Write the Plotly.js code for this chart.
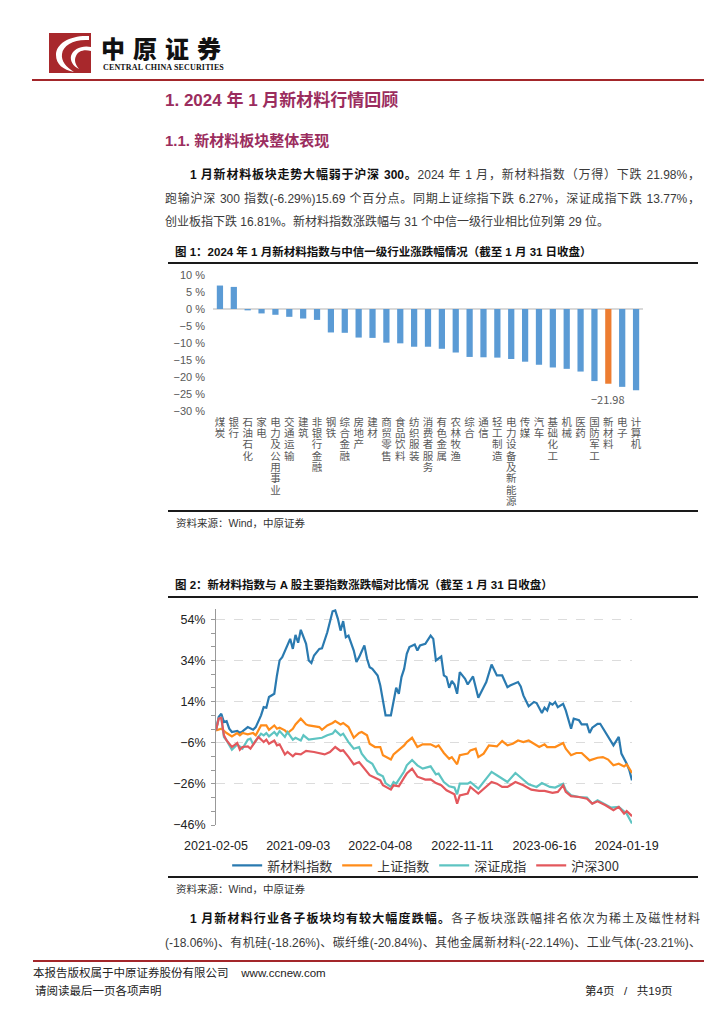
<!DOCTYPE html>
<html lang="zh-CN">
<head>
<meta charset="utf-8">
<script src="https://cdn.plot.ly/plotly-3.0.1.min.js"></script>
<style>
html,body{margin:0;padding:0;background:#fff;}
#page{position:relative;width:724px;height:1024px;overflow:hidden;font-family:"Liberation Sans","Noto Sans CJK SC",sans-serif;color:#3a3a3a;}
.abs{position:absolute;white-space:nowrap;}
.rule{position:absolute;height:2px;background:#1a1a1a;z-index:5;}
.jl{position:absolute;white-space:normal;text-align:justify;text-align-last:justify;font-size:12px;line-height:16px;}
.nl{position:absolute;white-space:nowrap;font-size:12px;line-height:16px;}
.jl b,.nl b{color:#111;font-weight:bold;}
.ttl{position:absolute;white-space:nowrap;font-size:11.5px;line-height:14px;font-weight:bold;color:#111;}
.src{position:absolute;white-space:nowrap;font-size:10.5px;line-height:14px;color:#333;}
.chart{position:absolute;}
</style>
</head>
<body>
<div id="page">
  <svg class="abs" style="left:49px;top:33px" width="42" height="40" viewBox="0 0 42 40">
    <rect width="42" height="40" fill="#a8282c"/>
    <path d="M40,3 C22,2 7,10 7,22 C7,31 14,37 25,39 C17,34 12,28 13,21 C14,12 25,6 40,7 Z" fill="#fff"/>
    <path d="M42,14 C33,12 24,16 22,23 C21,28 24,33 30,36 C26,31 25,27 27,23 C29,18 35,16 42,18 Z" fill="#fff"/>
  </svg>
  <div class="abs" style="left:101px;top:36px;font-family:'Noto Sans CJK SC';font-weight:900;font-size:24px;line-height:24px;letter-spacing:8px;color:#111;">中原证券</div>
  <div class="abs" style="left:103px;top:63px;font-family:'Liberation Serif';font-weight:bold;font-size:8px;line-height:9px;letter-spacing:0.15px;color:#111;">CENTRAL CHINA SECURITIES</div>
  <div class="abs" style="left:32px;top:79px;width:672px;height:2px;background:#a3262a;"></div>

  <div class="abs" style="left:165px;top:91px;font-size:17px;line-height:20px;font-weight:bold;color:#9b2d5e;">1. 2024 年 1 月新材料行情回顾</div>
  <div class="abs" style="left:165px;top:132px;font-size:15px;line-height:18px;font-weight:bold;color:#9b2d5e;">1.1. 新材料板块整体表现</div>

  <div class="jl" style="left:190px;top:167px;width:510px;"><b>1 月新材料板块走势大幅弱于沪深 300。</b>2024 年 1 月，新材料指数（万得）下跌 21.98%，</div>
  <div class="jl" style="left:165px;top:191px;width:535px;">跑输沪深 300 指数(-6.29%)15.69 个百分点。同期上证综指下跌 6.27%，深证成指下跌 13.77%，</div>
  <div class="nl" style="left:165px;top:214px;">创业板指下跌 16.81%。新材料指数涨跌幅与 31 个中信一级行业相比位列第 29 位。</div>

  <div class="ttl" style="left:175px;top:245px;">图 1：2024 年 1 月新材料指数与中信一级行业涨跌幅情况（截至 1 月 31 日收盘）</div>
  <div class="rule" style="left:168px;top:262px;width:530px;"></div>
  <div id="c1" class="chart" style="left:160px;top:255px;width:520px;height:265px;"></div>
  <div class="rule" style="left:168px;top:510px;width:530px;"></div>
  <div class="src" style="left:176px;top:516px;">资料来源：Wind，中原证券</div>

  <div class="ttl" style="left:175px;top:578px;">图 2：新材料指数与 A 股主要指数涨跌幅对比情况（截至 1 月 31 日收盘）</div>
  <div class="rule" style="left:168px;top:596px;width:530px;"></div>
  <div id="c2" class="chart" style="left:160px;top:600px;width:540px;height:300px;"></div>
  <div class="rule" style="left:168px;top:876px;width:530px;"></div>
  <div class="src" style="left:176px;top:882px;">资料来源：Wind，中原证券</div>

  <div class="jl" style="left:190px;top:911px;width:510px;"><b>1 月新材料行业各子板块均有较大幅度跌幅。</b>各子板块涨跌幅排名依次为稀土及磁性材料</div>
  <div class="jl" style="left:165px;top:935px;width:536px;">(-18.06%)、有机硅(-18.26%)、碳纤维(-20.84%)、其他金属新材料(-22.14%)、工业气体(-23.21%)、</div>

  <div class="abs" style="left:33px;top:960px;width:671px;height:2px;background:#a3262a;"></div>
  <div class="abs" style="left:33px;top:966px;font-size:11.5px;line-height:14px;color:#222;">本报告版权属于中原证券股份有限公司&nbsp;&nbsp;&nbsp;&nbsp;www.ccnew.com</div>
  <div class="abs" style="left:35px;top:984px;font-size:11.5px;line-height:14px;color:#222;">请阅读最后一页各项声明</div>
  <div class="abs" style="left:585px;top:984px;font-size:11.5px;line-height:14px;color:#222;">第4页&nbsp;&nbsp;&nbsp;/&nbsp;&nbsp;&nbsp;共19页</div>
</div>

<script>
// ---------- Figure 1: industry changes, Jan 2024 (%) ----------
var industries = ['煤炭','银行','石油石化','家电','电力及公用事业','交通运输','建筑','非银行金融','钢铁','综合金融','房地产','建材','商贸零售','食品饮料','纺织服装','消费者服务','有色金属','农林牧渔','综合','通信','轻工制造','电力设备及新能源','传媒','汽车','基础化工','机械','医药','国防军工','新材料','电子','计算机'];
var changes = [6.9, 6.5, -0.4, -1.3, -1.7, -2.3, -2.8, -3.2, -6.9, -7.0, -8.4, -8.5, -9.9, -10.1, -11.1, -11.1, -11.7, -12.8, -14.1, -14.2, -14.3, -14.7, -15.5, -16.4, -17.2, -17.6, -18.4, -21.2, -21.98, -22.9, -23.9];
var highlight = '新材料';

// ---------- Figure 2: cumulative change since 2021-02-05 (%) ----------
// x = weekly observation index (0 = 2021-02-05)
var dateTickIdx = [0, 31, 62, 93, 124, 155];
var dateTickText = ['2021-02-05', '2021-09-03', '2022-04-08', '2022-11-11', '2023-06-16', '2024-01-19'];

var newMatIdx = [0,1,2,3,4,5,6,8,9,10,12,13,14,15,17,18,19,20,22,23,24,25,27,28,29,30,31,32,34,35,36,37,39,40,42,43,44,45,46,47,48,49,50,52,53,54,56,57,58,59,61,62,63,64,66,67,68,69,70,71,72,73,75,76,77,79,81,82,83,85,86,87,88,89,90,91,92,94,95,97,99,101,102,104,106,108,110,111,114,115,116,118,120,121,123,124,125,126,127,128,129,131,132,134,135,137,138,140,141,142,144,145,147,149,150,152,153,155,156,157];
var newMatVal = [0,6.5,8.1,4.0,4.5,0.8,-0.8,-0.3,-1.1,-0.5,1.6,1.0,0.3,1.6,7.3,11.3,11.0,16.2,17.8,26.7,34.0,35.6,41.3,44.5,39.6,46.4,42.6,48.9,42.1,34.0,32.7,36.4,39.6,39.9,47.7,53.4,57.9,58.3,54.2,48.5,53.1,45.3,46.1,38.8,33.2,35.6,41.3,34.8,30.7,29.9,26.7,21.8,14.6,7.3,7.3,14.6,20.7,17.8,25.9,29.9,37.2,40.5,41.7,38.8,41.3,42.1,46.1,44.5,34.0,35.9,26.7,25.9,20.7,24.0,22.3,17.8,28.3,25.1,22.3,26.2,15.9,21.0,23.5,32.0,26.7,26.7,21.0,21.8,23.5,21.4,17.0,11.7,13.8,13.3,8.4,11.0,9.7,13.3,12.5,13.8,11.3,12.9,9.7,0.8,5.7,4.9,2.9,2.9,-1.3,1.3,3.2,3.2,-0.8,-4.9,-7.3,-3.2,-11.3,-16.2,-19.4,-24.3];

var shIdx = [0,1,2,4,6,8,9,10,12,14,15,17,19,20,22,23,24,26,27,29,30,32,34,35,37,39,40,42,44,45,47,48,50,52,54,55,57,58,60,62,63,66,67,69,71,72,74,76,78,81,83,84,86,88,89,91,92,95,96,98,99,101,103,106,108,110,112,114,116,118,120,122,124,125,128,131,132,134,136,138,141,144,146,148,150,152,154,155,157];
var shVal = [0,0.5,0.8,-1.3,-2.9,-1.3,-2.4,-1.3,-1.9,-1.3,-2.4,2.4,2.4,0.3,2.4,0.8,1.3,0,-1.3,0.8,2.9,5.7,2.9,2.4,1.9,1.6,0.3,2.4,3.6,4.5,2.9,3.6,1.6,-3.6,-1.3,-0.8,-2.4,-6.5,-8.1,-8.1,-12.1,-14.2,-11.7,-9.7,-7.3,-5.7,-3.6,-8.1,-6.8,-6.8,-8.1,-7.3,-11.0,-13.8,-13.0,-16.5,-12.1,-11.3,-9.7,-8.9,-13.0,-11.3,-7.3,-7.8,-5.2,-7.3,-6.5,-4.9,-5.7,-4.9,-6.5,-8.1,-6.8,-8.1,-8.1,-6.1,-8.9,-12.1,-11.0,-11.0,-14.6,-13.3,-13.0,-14.2,-17.0,-16.2,-17.5,-16.5,-20.7];

var szIdx = [0,1,2,3,4,6,8,9,10,12,13,14,15,17,18,19,20,22,23,24,26,27,29,30,32,33,35,37,40,42,44,45,47,48,50,52,54,55,57,59,61,63,64,66,67,68,71,72,74,76,78,81,83,84,86,88,90,91,92,95,96,99,101,104,106,108,110,113,116,118,121,123,126,128,131,132,134,137,140,142,144,146,149,152,154,155,157];
var szVal = [0,5.7,6.1,-3.2,-4.9,-9.4,-6.8,-8.1,-8.9,-4.5,-4.0,-6.8,-4.9,-1.6,-2.4,-1.3,-2.9,-0.8,-2.4,-0.3,-3.2,-0.8,-4.5,-3.6,-4.9,-2.4,-4.5,-4.0,-3.6,-2.4,-1.6,0,-2.4,-1.6,-5.7,-8.9,-8.1,-11.3,-14.6,-16.2,-21.0,-22.3,-25.6,-27.5,-25.1,-25.9,-20.0,-17.0,-14.4,-17.0,-18.6,-17.5,-21.4,-21.0,-25.1,-27.2,-27.8,-31.1,-25.9,-25.9,-25.1,-28.3,-25.1,-20.2,-21.8,-23.5,-25.1,-20.7,-23.9,-26.2,-27.5,-25.6,-27.5,-27.8,-25.9,-29.1,-31.6,-32.4,-32.7,-35.6,-34.0,-35.3,-37.5,-37.2,-39.6,-40.5,-45.3];

var hs300Idx = [0,1,2,3,4,6,8,9,10,12,13,14,16,18,19,20,22,23,24,26,27,29,30,32,34,37,39,41,43,45,47,48,50,52,54,56,58,60,62,63,66,67,69,71,72,74,76,79,81,83,85,87,88,90,91,92,95,96,99,101,104,106,108,110,113,116,119,122,124,127,129,131,132,134,137,140,142,144,147,150,152,154,155,157];
var hs300Val = [0,5.7,6.1,-2.4,-4.9,-8.1,-6.1,-9.4,-8.1,-7.8,-8.9,-6.8,-3.2,-5.7,-4.5,-6.5,-4.9,-7.3,-6.8,-11.7,-10.5,-12.6,-11.3,-11.7,-10.0,-10.5,-11.0,-11.7,-10.5,-8.1,-10.0,-9.7,-12.9,-16.5,-15.4,-18.6,-21.8,-23.0,-24.3,-26.7,-28.8,-26.7,-27.2,-23.0,-21.0,-18.6,-22.5,-23.9,-23.8,-25.6,-26.7,-29.1,-29.9,-31.1,-35.6,-31.6,-30.7,-27.5,-30.7,-28.3,-25.1,-25.9,-27.5,-27.5,-25.1,-26.7,-28.8,-29.4,-29.4,-30.4,-29.9,-26.7,-29.9,-32.0,-32.4,-33.2,-35.6,-34.5,-36.4,-38.8,-37.2,-40.5,-39.2,-41.7];

var seriesNames = ['新材料指数', '上证指数', '深证成指', '沪深300'];
var seriesColors = ['#2a7ab0', '#ff8c1a', '#5ec4c2', '#e3585d'];

// ---------- Draw figure 1 ----------
var hiIdx = industries.indexOf(highlight);
var hiVal = changes[hiIdx];
Plotly.newPlot('c1', [{
  type: 'bar',
  x: industries,
  y: changes,
  marker: {color: industries.map(function(n){ return n === highlight ? '#ed7d31' : '#5b9bd5'; })},
  hoverinfo: 'skip'
}], {
  width: 520, height: 265,
  margin: {l: 53, r: 37, t: 20, b: 109},
  paper_bgcolor: 'rgba(0,0,0,0)', plot_bgcolor: 'rgba(0,0,0,0)',
  bargap: 0.55, showlegend: false,
  xaxis: {
    type: 'category', range: [-0.5, industries.length - 0.5],
    tickmode: 'array', tickvals: industries,
    ticktext: industries.map(function(s){ return s.split('').join('<br>'); }),
    tickangle: 0, ticks: '', showline: false, showgrid: false, zeroline: false,
    ticklabelstandoff: 3,
    tickfont: {family: 'Noto Sans CJK SC', size: 10.5, color: '#595959'}
  },
  yaxis: {
    range: [-30, 10], tickmode: 'linear', tick0: 0, dtick: 5, ticksuffix: ' %',
    showgrid: false, showline: false, ticks: '',
    zeroline: true, zerolinecolor: '#d9d9d9', zerolinewidth: 1.5,
    ticklabelstandoff: 7,
    tickfont: {family: 'Liberation Sans', size: 11, color: '#595959'}
  },
  annotations: [{
    x: highlight, y: hiVal, xref: 'x', yref: 'y',
    text: hiVal.toFixed(2).replace('-', '\u2212'),
    showarrow: false, yanchor: 'top', yshift: -5,
    font: {family: 'Noto Sans CJK SC', size: 11, color: '#595959'}
  }]
}, {staticPlot: true, displayModeBar: false}).then(function(gd){
  gd.querySelectorAll('.xtick text tspan.line').forEach(function(s){
    var dy = s.getAttribute('dy');
    if (dy && dy.indexOf('em') > 0) s.setAttribute('dy', (parseFloat(dy) * 0.835) + 'em');
  });
});

// ---------- Draw figure 2 ----------
var xs = [newMatIdx, shIdx, szIdx, hs300Idx];
var ys = [newMatVal, shVal, szVal, hs300Val];
var traces2 = seriesNames.map(function(n, i){
  return {type: 'scatter', mode: 'lines', x: xs[i], y: ys[i], name: n,
          line: {color: seriesColors[i], width: 2.2}, cliponaxis: false, hoverinfo: 'skip'};
});
var yMin = -46, yMax = 59;
Plotly.newPlot('c2', traces2, {
  width: 540, height: 300,
  margin: {l: 56, r: 67.7, t: 8.5, b: 75.2},
  paper_bgcolor: 'rgba(0,0,0,0)', plot_bgcolor: 'rgba(0,0,0,0)',
  xaxis: {
    range: [0, 157], tickmode: 'array', tickvals: dateTickIdx, ticktext: dateTickText,
    showline: false, ticks: '', showgrid: false, zeroline: false, ticklabelstandoff: 11,
    tickfont: {family: 'Liberation Sans', size: 12.5, color: '#222'}
  },
  xaxis2: {
    overlaying: 'x', anchor: 'free', position: (0 - yMin) / (yMax - yMin),
    range: [0, 157], tickmode: 'linear', tick0: 0, dtick: 15.5,
    ticks: 'outside', ticklen: 4, tickcolor: '#999', tickwidth: 1,
    showline: true, linecolor: '#999', linewidth: 1.5,
    showticklabels: false, showgrid: false, zeroline: false
  },
  yaxis: {
    range: [yMin, yMax], tickmode: 'linear', tick0: -46, dtick: 20, ticksuffix: '%',
    showline: true, linecolor: '#999', linewidth: 1,
    ticks: 'outside', ticklen: 4, tickcolor: '#999',
    showgrid: true, gridcolor: '#dcdcdc', griddash: 'dash', gridwidth: 1,
    zeroline: false, ticklabelstandoff: 3,
    minor: {tick0: -46, dtick: 20 / 3, ticks: 'outside', ticklen: 4, tickcolor: '#999', showgrid: false},
    tickfont: {family: 'Liberation Sans', size: 12.5, color: '#222'}
  },
  showlegend: true,
  legend: {
    orientation: 'h', x: 0.504, xanchor: 'center', y: -0.118, yanchor: 'top',
    font: {family: 'Noto Sans CJK SC', size: 13, color: '#333'},
    bgcolor: 'rgba(0,0,0,0)'
  }
}, {staticPlot: true, displayModeBar: false});
</script>
</body>
</html>
